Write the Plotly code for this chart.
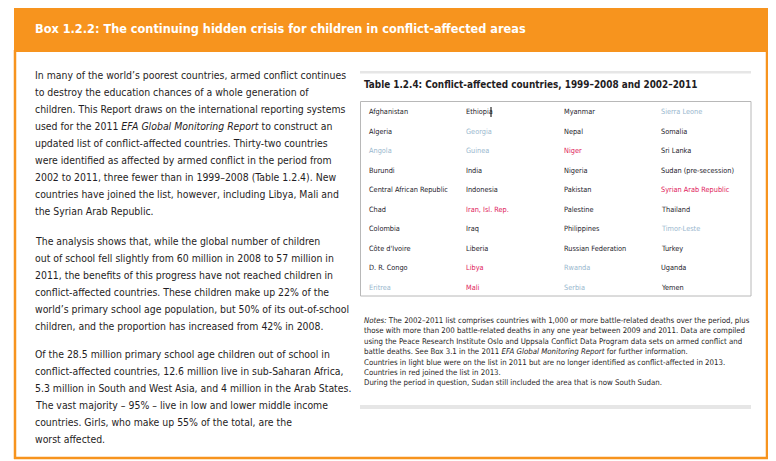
import plotly.graph_objects as go

# ---------------- data ----------------
box_title = "Box 1.2.2: The continuing hidden crisis for children in conflict-affected areas"
table_title = "Table 1.2.4: Conflict-affected countries, 1999–2008 and 2002–2011"

col1 = ["Afghanistan", "Algeria", "Angola", "Burundi", "Central African Republic",
        "Chad", "Colombia", "Côte d'Ivoire", "D. R. Congo", "Eritrea"]
col1_status = ["both", "both", "removed", "both", "both",
               "both", "both", "both", "both", "removed"]
col2 = ["Ethiopia", "Georgia", "Guinea", "India", "Indonesia",
        "Iran, Isl. Rep.", "Iraq", "Liberia", "Libya", "Mali"]
col2_status = ["both", "removed", "removed", "both", "both",
               "new", "both", "both", "new", "new"]
col3 = ["Myanmar", "Nepal", "Niger", "Nigeria", "Pakistan",
        "Palestine", "Philippines", "Russian Federation", "Rwanda", "Serbia"]
col3_status = ["both", "both", "new", "both", "both",
               "both", "both", "both", "removed", "removed"]
col4 = ["Sierra Leone", "Somalia", "Sri Lanka", "Sudan (pre-secession)", "Syrian Arab Republic",
        "Thailand", "Timor-Leste", "Turkey", "Uganda", "Yemen"]
col4_status = ["removed", "both", "both", "both", "new",
               "both", "removed", "both", "both", "both"]

para1 = [
    "In many of the world’s poorest countries, armed conflict continues",
    "to destroy the education chances of a whole generation of",
    "children. This Report draws on the international reporting systems",
    "used for the 2011 <i>EFA Global Monitoring Report</i> to construct an",
    "updated list of conflict-affected countries. Thirty-two countries",
    "were identified as affected by armed conflict in the period from",
    "2002 to 2011, three fewer than in 1999–2008 (Table 1.2.4). New",
    "countries have joined the list, however, including Libya, Mali and",
    "the Syrian Arab Republic.",
]
para2 = [
    "The analysis shows that, while the global number of children",
    "out of school fell slightly from 60 million in 2008 to 57 million in",
    "2011, the benefits of this progress have not reached children in",
    "conflict-affected countries. These children make up 22% of the",
    "world’s primary school age population, but 50% of its out-of-school",
    "children, and the proportion has increased from 42% in 2008.",
]
para3 = [
    "Of the 28.5 million primary school age children out of school in",
    "conflict-affected countries, 12.6 million live in sub-Saharan Africa,",
    "5.3 million in South and West Asia, and 4 million in the Arab States.",
    "The vast majority – 95% – live in low and lower middle income",
    "countries. Girls, who make up 55% of the total, are the",
    "worst affected.",
]
notes = [
    "<i>Notes:</i> The 2002–2011 list comprises countries with 1,000 or more battle-related deaths over the period, plus",
    "those with more than 200 battle-related deaths in any one year between 2009 and 2011. Data are compiled",
    "using the Peace Research Institute Oslo and Uppsala Conflict Data Program data sets on armed conflict and",
    "battle deaths. See Box 3.1 in the 2011 <i>EFA Global Monitoring Report</i> for further information.",
    "Countries in light blue were on the list in 2011 but are no longer identified as conflict-affected in 2013.",
    "Countries in red joined the list in 2013.",
    "During the period in question, Sudan still included the area that is now South Sudan.",
]

# ---------------- styles ----------------
W, H = 776, 461
PAGE_MARGIN = 8  # default body margin of the html page
ORANGE = "#F7941E"
TEXT = "#1F1D24"
STATUS_COLOR = {"both": "#23212A", "removed": "#99B7CE", "new": "#E0195A"}
NARROW = "DejaVu Sans Condensed, Liberation Sans Narrow, Roboto Condensed, sans-serif"

fig = go.Figure()
shapes = []
ann = []

# header band and frame
shapes.append(dict(type="rect", x0=14, x1=768, y0=5, y1=52, fillcolor=ORANGE, line=dict(width=0)))
shapes.append(dict(type="line", x0=15, x1=15, y0=50, y1=459, line=dict(color=ORANGE, width=2.5)))
shapes.append(dict(type="line", x0=767, x1=767, y0=50, y1=459, line=dict(color=ORANGE, width=2.5)))
shapes.append(dict(type="line", x0=14, x1=768, y0=458, y1=458, line=dict(color=ORANGE, width=2.5)))

ann.append(dict(x=33, y=28, text=f"<b>{box_title}</b>", showarrow=False, xanchor="left", yanchor="middle",
                font=dict(family=NARROW, size=12.6, color="white")))

# left text
def add_lines(lines, y0, step, x, size, color=TEXT):
    for i, t in enumerate(lines):
        ann.append(dict(x=x, y=y0 + i * step, text=t, showarrow=False, xanchor="left", yanchor="middle",
                        font=dict(family=NARROW, size=size, color=color)))

add_lines(para1, 75, 17, 33, 10.4)
add_lines(para2, 241, 17, 33, 10.4)
add_lines(para3, 354, 17, 33, 10.4)

# table panel
shapes.append(dict(type="rect", x0=360, x1=751, y0=71, y1=73.5, fillcolor="#E6E6E6", line=dict(width=0)))
shapes.append(dict(type="rect", x0=360, x1=751, y0=405, y1=409, fillcolor="#E6E6E6", line=dict(width=0)))
ann.append(dict(x=362, y=84, text=f"<b>{table_title}</b>", showarrow=False, xanchor="left", yanchor="middle",
                font=dict(family=NARROW, size=9.9, color=TEXT)))
shapes.append(dict(type="rect", x0=360.5, x1=751, y0=101.5, y1=296, fillcolor="rgba(0,0,0,0)",
                   line=dict(color="#B8B8B8", width=1)))

col_x = [367, 464, 562, 659]
row_y0, row_step = 111.5, 19.5
for cx, names, stats in zip(col_x, [col1, col2, col3, col4],
                            [col1_status, col2_status, col3_status, col4_status]):
    for i, (n, s) in enumerate(zip(names, stats)):
        ann.append(dict(x=cx, y=row_y0 + i * row_step, text=n, showarrow=False, xanchor="left",
                        yanchor="middle", font=dict(family=NARROW, size=7.3, color=STATUS_COLOR[s])))

# text cursor after "Ethiopia"
shapes.append(dict(type="line", x0=491, x1=491, y0=107, y1=117, line=dict(color="black", width=1)))

add_lines(notes, 320.5, 10.4, 362, 7.8)

fig.update_layout(
    width=W - PAGE_MARGIN, height=H - PAGE_MARGIN,
    margin=dict(l=0, r=0, t=0, b=0),
    paper_bgcolor="white", plot_bgcolor="white",
    xaxis=dict(range=[PAGE_MARGIN, W], visible=False, fixedrange=True),
    yaxis=dict(range=[H, PAGE_MARGIN], visible=False, fixedrange=True),
    shapes=shapes, annotations=ann, showlegend=False,
)
fig.write_html("out.html")
